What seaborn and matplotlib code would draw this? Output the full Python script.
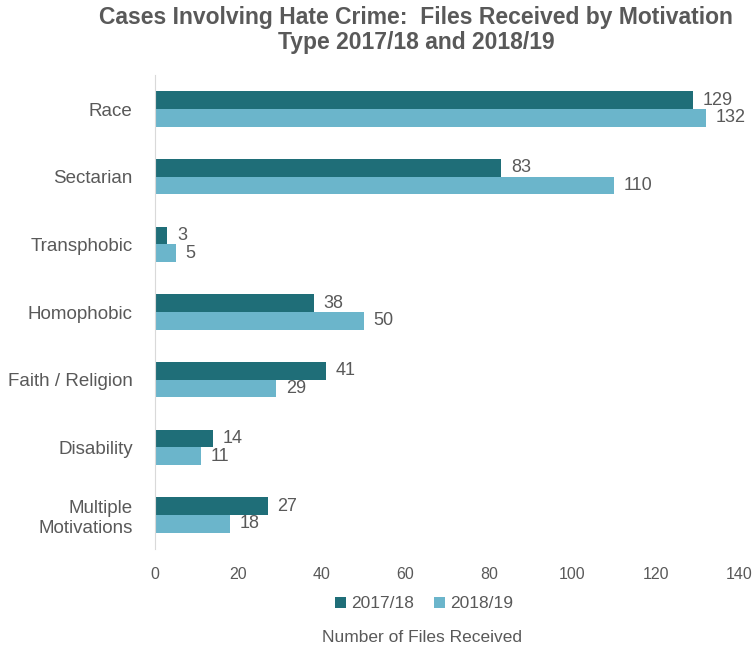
import matplotlib
matplotlib.use("Agg")
import matplotlib.pyplot as plt
import seaborn as sns
import pandas as pd

categories = ["Race", "Sectarian", "Transphobic", "Homophobic", "Faith / Religion", "Disability", "Multiple\nMotivations"]
series_names = ["2017/18", "2018/19"]
values_1718 = [129, 83, 3, 38, 41, 14, 27]
values_1819 = [132, 110, 5, 50, 29, 11, 18]
colors = ["#1F6E78", "#6BB5CB"]

df = pd.DataFrame({
    "Category": categories * 2,
    "Year": [series_names[0]] * len(categories) + [series_names[1]] * len(categories),
    "Files": values_1718 + values_1819,
})

sns.set_style("white")
plt.rcParams['font.family'] = ['Liberation Sans', 'DejaVu Sans']
text_color = "#595959"

fig = plt.figure(figsize=(7.52, 6.48), dpi=100)
ax = fig.add_axes([0.206, 0.153, 0.777, 0.731])

sns.barplot(data=df, y="Category", x="Files", hue="Year", orient="h",
            palette=colors, width=0.52, ax=ax, saturation=1, legend=True,
            edgecolor="none")

for cont in ax.containers:
    ax.bar_label(cont, labels=[f"{int(v)}" for v in cont.datavalues], padding=7,
                 fontsize=13, color=text_color)

ax.set_xlim(0, 140)
ax.set_ylim(6.5, -0.5)
ax.set_xticks(range(0, 141, 20))
ax.tick_params(axis="x", labelsize=11.5, colors=text_color, length=0, pad=13)
ax.tick_params(axis="y", labelsize=13.5, colors=text_color, length=0, pad=16)
ax.set_ylabel("")
ax.set_xlabel("")
for s in ["top", "right", "bottom"]:
    ax.spines[s].set_visible(False)
ax.spines["left"].set_color("#D9D9D9")

ax.legend(loc="center", bbox_to_anchor=(0.564, 0.068), bbox_transform=fig.transFigure,
          ncol=2, frameon=False,
          fontsize=12.5, handlelength=0.6, handleheight=0.6, handletextpad=0.3,
          columnspacing=1.2, labelcolor=text_color)

fig.text(0.561, 1 - 637 / 648, "Number of Files Received", ha="center", va="center",
         fontsize=12.5, color=text_color)

fig.suptitle("Cases Involving Hate Crime:  Files Received by Motivation\nType 2017/18 and 2018/19",
             x=0.553, y=0.99, fontsize=16.5, fontweight="bold", color=text_color,
             family=['Liberation Sans Narrow', 'Liberation Sans', 'DejaVu Sans'], linespacing=1.1)

fig.savefig("out.png", dpi=100)
